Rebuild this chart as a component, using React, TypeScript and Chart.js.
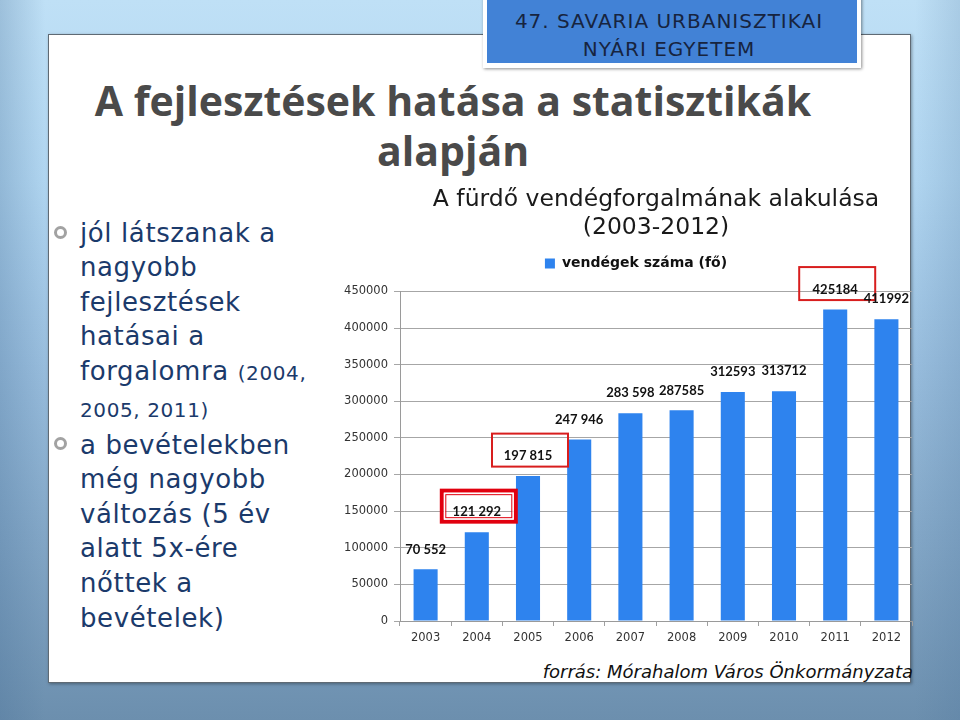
import React, { useEffect, useRef } from "react";
import { Chart, registerables } from "chart.js";

Chart.register(...registerables);

// ---------- data ----------
const years = ["2003", "2004", "2005", "2006", "2007", "2008", "2009", "2010", "2011", "2012"];
const visitors = [70552, 121292, 197815, 247946, 283598, 287585, 312593, 313712, 425184, 411992];
const valueLabels = ["70 552", "121 292", "197 815", "247 946", "283 598", "287585", "312593", "313712", "425184", "411992"];
const seriesLabel = "vendégek száma (fő)";
const chartTitle = ["A fürdő vendégforgalmának alakulása", "(2003-2012)"];
const yMin = 0;
const yMax = 450000;
const yStep = 50000;
const boxedYears = ["2004", "2005", "2011"];
const emphasizedYear = "2004";
const slideHeading = ["A fejlesztések hatása a statisztikák", "alapján"];
const banner = ["47. SAVARIA URBANISZTIKAI", "NYÁRI EGYETEM"];
const sourceNote = "forrás: Mórahalom Város Önkormányzata";

const BAR_COLOR = "#2e83ee";
const NAVY = "#1b3a6b";

const legendGap = {
  id: "legendGap",
  beforeUpdate(chart: any) {
    const lg = chart.legend;
    if (lg && !lg.__gapPatched) {
      const orig = lg.fit;
      lg.fit = function () {
        orig.call(this);
        this.height += 11;
      };
      lg.__gapPatched = true;
    }
  },
};

const valueLabelPlugin = {
  id: "valueLabelPlugin",
  afterDatasetsDraw(chart: any) {
    const ctx = chart.ctx;
    const meta = chart.getDatasetMeta(0);
    ctx.save();
    ctx.font = "bold 13px Lato";
    ctx.fillStyle = "#111";
    ctx.textAlign = "center";
    ctx.textBaseline = "middle";
    meta.data.forEach((bar: any, i: number) => {
      const x = bar.x;
      const y = bar.y - 20;
      ctx.fillText(valueLabels[i], x, y);
      const yr = years[i];
      if (boxedYears.includes(yr)) {
        const w = 78;
        const h = 35;
        const bx = x - w / 2 + 2;
        const by = y - h / 2 - 6;
        if (yr === emphasizedYear) {
          ctx.strokeStyle = "#e1000f";
          ctx.lineWidth = 4;
          ctx.strokeRect(bx + 2, by + 2, w - 4, h - 4);
          ctx.strokeStyle = "#ffffff";
          ctx.lineWidth = 1.5;
          ctx.strokeRect(bx + 4.75, by + 4.75, w - 9.5, h - 9.5);
          ctx.strokeStyle = "#e1000f";
          ctx.lineWidth = 1;
          ctx.strokeRect(bx + 6, by + 6, w - 12, h - 12);
        } else {
          ctx.strokeStyle = "#d81e1e";
          ctx.lineWidth = 2;
          ctx.strokeRect(bx + 1, by + 1, w - 2, h - 2);
        }
      }
    });
    ctx.restore();
  },
};

function VisitorChart() {
  const ref = useRef<HTMLCanvasElement | null>(null);
  useEffect(() => {
    if (!ref.current) return;
    const tickFont = { family: "DejaVu Sans", size: 11.5 };
    const chart = new Chart(ref.current, {
      type: "bar",
      data: {
        labels: years,
        datasets: [
          {
            label: seriesLabel,
            data: visitors,
            backgroundColor: BAR_COLOR,
            borderWidth: 0,
            categoryPercentage: 1,
            barPercentage: 0.47,
            yAxisID: "y",
          },
        ],
      },
      options: {
        responsive: false,
        animation: false,
        devicePixelRatio: 1,
        layout: { padding: { left: 4, right: 2, top: 0, bottom: 0 } },
        plugins: {
          title: {
            display: true,
            text: chartTitle,
            fullSize: false,
            color: "#1a1a1a",
            font: { family: "DejaVu Sans", size: 23.5, weight: "normal", lineHeight: 1.2 },
            padding: { top: 6, bottom: -3 },
          },
          legend: {
            display: true,
            position: "top",
            labels: {
              boxWidth: 10,
              boxHeight: 10,
              padding: 17,
              color: "#111",
              font: { family: "DejaVu Sans", size: 14, weight: "bold" },
            },
          },
          tooltip: { enabled: false },
        },
        scales: {
          x: {
            grid: { display: true, drawOnChartArea: false, drawTicks: true, tickLength: 5, color: "#a0a0a0", offset: true },
            border: { color: "#9a9a9a" },
            ticks: { color: "#333", font: tickFont, padding: 5, maxRotation: 0, autoSkip: false },
            afterFit: (s: any) => {
              s.height = 39;
            },
          },
          y: {
            position: "left",
            min: yMin,
            max: yMax,
            ticks: {
              stepSize: yStep,
              color: "#333",
              font: tickFont,
              padding: 6,
              callback: (v: any) => String(v),
            },
            grid: { color: "#a6a6a6", tickLength: 6 },
            border: { color: "#9a9a9a" },
            afterFit: (s: any) => {
              s.width = 56;
            },
          },
          spacer: {
            type: "linear",
            position: "right",
            display: true,
            grid: { display: false, drawOnChartArea: false },
            border: { display: false },
            ticks: { display: false },
            afterFit: (s: any) => {
              s.width = 16;
            },
          },
        },
      },
      plugins: [legendGap, valueLabelPlugin],
    } as any);
    return () => chart.destroy();
  }, []);
  return (
    <canvas
      ref={ref}
      width={590}
      height={480}
      style={{ position: "absolute", left: 340, top: 180, width: 590, height: 480 }}
    />
  );
}

function Bullet({ top }: { top: number }) {
  return (
    <div
      style={{
        position: "absolute",
        left: 54,
        top: top - 6.5,
        width: 13,
        height: 13,
        borderRadius: "50%",
        border: "3px solid #a2a2a2",
        boxSizing: "border-box",
        background: "#ffffff",
      }}
    />
  );
}

export default function App() {
  const bulletText: React.CSSProperties = {
    position: "absolute",
    left: 80,
    fontFamily: "DejaVu Sans",
    fontSize: 26,
    letterSpacing: 0.6,
    lineHeight: "34.6px",
    color: NAVY,
    whiteSpace: "nowrap",
  };
  return (
    <div
      style={{
        position: "absolute",
        left: 0,
        top: 0,
        width: 960,
        height: 720,
        overflow: "hidden",
        background:
          "linear-gradient(90deg, rgba(70,110,150,0.28) 0px, rgba(70,110,150,0) 45px, rgba(70,110,150,0) 915px, rgba(70,110,150,0.18) 960px), linear-gradient(180deg, #bfe0f6 0%, #b0d5f0 25%, #98bddd 50%, #82a6c6 75%, #6c8fae 100%)",
      }}
    >
      {/* white panel */}
      <div
        style={{
          position: "absolute",
          left: 48,
          top: 34,
          width: 863,
          height: 649,
          background: "#ffffff",
          border: "1px solid #5f6a74",
          boxSizing: "border-box",
          boxShadow: "1px 1px 3px rgba(0,0,0,0.35)",
        }}
      />
      {/* banner */}
      <div
        style={{
          position: "absolute",
          left: 483,
          top: -8,
          width: 378,
          height: 76,
          background: "#ffffff",
          boxShadow: "1px 1px 3px rgba(0,0,0,0.45)",
        }}
      />
      <div
        style={{
          position: "absolute",
          left: 487,
          top: -4,
          width: 370,
          height: 67,
          background: "#4282d6",
          color: "#17243f",
          fontFamily: "DejaVu Sans",
          fontSize: 20,
          letterSpacing: 1,
          lineHeight: "28px",
          textAlign: "center",
          paddingTop: 11,
          boxSizing: "border-box",
        }}
      >
        <div style={{ marginLeft: -6 }}>{banner[0]}</div>
        <div style={{ marginLeft: -6 }}>{banner[1]}</div>
      </div>
      {/* heading */}
      <div
        style={{
          position: "absolute",
          left: 48,
          top: 75,
          width: 810,
          textAlign: "center",
          fontFamily: "Open Sans",
          fontWeight: 700,
          fontSize: 41,
          lineHeight: "50px",
          color: "#4a4a4a",
          whiteSpace: "nowrap",
        }}
      >
        <div>{slideHeading[0]}</div>
        <div>{slideHeading[1]}</div>
      </div>
      {/* bullets */}
      <Bullet top={232} />
      <Bullet top={443} />
      <div style={{ ...bulletText, top: 233 - 17.3 }}>
        <div>jól látszanak a</div>
        <div>nagyobb</div>
        <div>fejlesztések</div>
        <div>hatásai a</div>
        <div>
          forgalomra <span style={{ fontSize: 20 }}>(2004,</span>
        </div>
        <div>
          <span style={{ fontSize: 20 }}>2005, 2011)</span>
        </div>
      </div>
      <div style={{ ...bulletText, top: 445 - 17.3 }}>
        <div>a bevételekben</div>
        <div>még nagyobb</div>
        <div>változás (5 év</div>
        <div>alatt 5x-ére</div>
        <div>nőttek a</div>
        <div>bevételek)</div>
      </div>
      <VisitorChart />
      {/* source */}
      <div
        style={{
          position: "absolute",
          right: 47,
          top: 660,
          fontFamily: "DejaVu Sans",
          fontStyle: "italic",
          fontSize: 18,
          lineHeight: "24px",
          color: "#111",
          whiteSpace: "nowrap",
        }}
      >
        {sourceNote}
      </div>
    </div>
  );
}
